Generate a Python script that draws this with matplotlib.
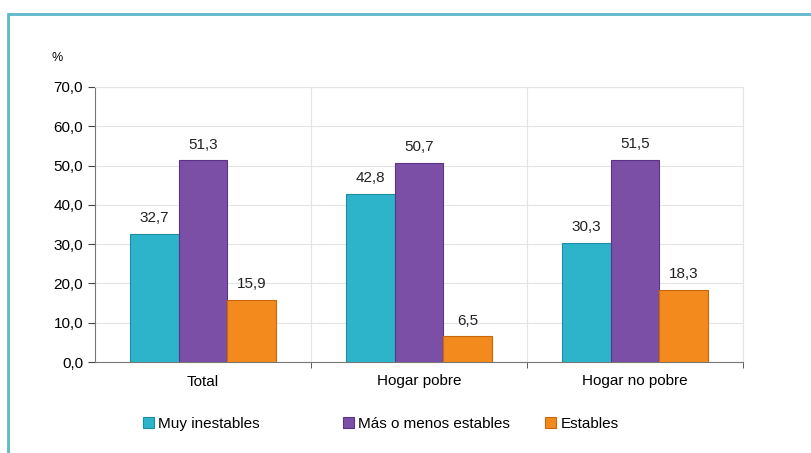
import matplotlib.pyplot as plt
import numpy as np
from matplotlib.patches import Rectangle

categories = ['Total', 'Hogar pobre', 'Hogar no pobre']
series = ['Muy inestables', 'Más o menos estables', 'Estables']
muy_inestables = [32.7, 42.8, 30.3]
mas_o_menos = [51.3, 50.7, 51.5]
estables = [15.9, 6.5, 18.3]
yticks = [0, 10, 20, 30, 40, 50, 60, 70]

colors = ['#2db4cb', '#7b4fa6', '#f28a1e']
edges = ['#1c8ea3', '#5a3585', '#c9670a']
legend_x = [143, 343, 545]  # px, left edge of each legend entry

plt.rcParams['font.family'] = ['Liberation Sans', 'DejaVu Sans']

fig = plt.figure(figsize=(8.12, 4.53), dpi=100)
fig.patches.append(Rectangle((8 / 812, -0.1), 1.0, 1 - 14 / 453 + 0.1,
                             transform=fig.transFigure, fill=False,
                             edgecolor='#5fb8cc', linewidth=2))
ax = fig.add_axes([95 / 812, 1 - 362 / 453, 648 / 812, 275 / 453])

x = np.arange(len(categories))
w = 0.225
bars = []
for i, vals in enumerate([muy_inestables, mas_o_menos, estables]):
    pos = x + (i - 1) * w
    b = ax.bar(pos, vals, w, color=colors[i], edgecolor=edges[i], linewidth=0.8,
               label=series[i], zorder=3)
    bars.append(b)
    for p, v in zip(pos, vals):
        ax.text(p, v + 2.2, f'{v:.1f}'.replace('.', ','), ha='center',
                va='bottom', fontsize=11, color='#222222')

ax.set_xlim(-0.5, 2.5)
ax.set_ylim(0, 70)
ax.set_yticks(yticks)
ax.set_yticklabels([f'{t:.1f}'.replace('.', ',') for t in yticks], fontsize=11)
ax.set_xticks(x)
ax.set_xticklabels(categories, fontsize=11)
ax.tick_params(axis='x', length=0, pad=9)
ax.set_xticks([0.5, 1.5, 2.5], minor=True)
ax.tick_params(axis='x', which='minor', length=4, color='#444444')
ax.tick_params(axis='y', length=5, color='#444444')
ax.grid(axis='y', color='#e4e4e4', linewidth=0.8, zorder=0)
ax.grid(axis='x', which='minor', color='#e4e4e4', linewidth=0.8, zorder=0)
for s in ['top', 'right']:
    ax.spines[s].set_color('#e4e4e4')
ax.spines['left'].set_color('#777777')
ax.spines['bottom'].set_color('#777777')

fig.text(52 / 812, 1 - 58 / 453, '%', fontsize=9, va='center')

for b, name, lx in zip(bars, series, legend_x):
    leg = fig.legend([b], [name], loc='center left',
                     bbox_to_anchor=(lx / 812, 1 - 424 / 453), frameon=False,
                     fontsize=11, handlelength=0.7, handleheight=0.7,
                     handletextpad=0.3, borderpad=0, borderaxespad=0)

fig.savefig('out.png', dpi=100)
